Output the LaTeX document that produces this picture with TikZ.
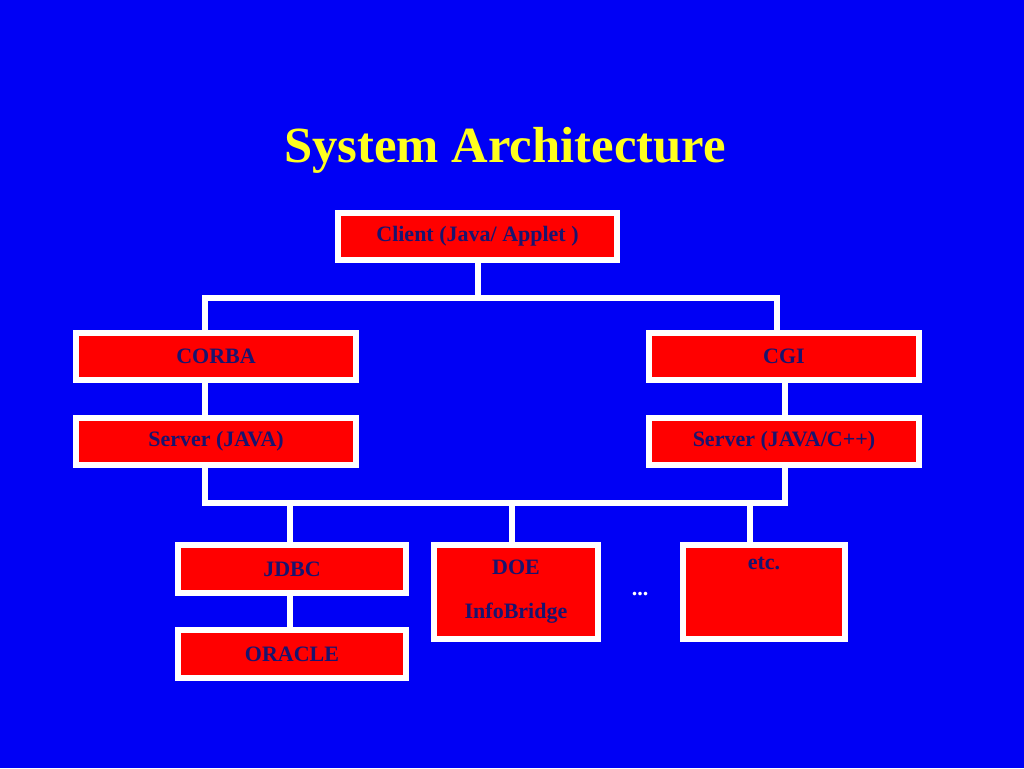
\documentclass[tikz,border=0pt]{standalone}
\usepackage{fontspec}
\setmainfont{Liberation Serif}
\usetikzlibrary{backgrounds}
\definecolor{slideblue}{RGB}{0,0,245}
\definecolor{boxred}{RGB}{255,0,0}
\definecolor{inkblue}{RGB}{25,20,110}
\definecolor{titleyellow}{RGB}{255,255,30}
\tikzset{
  archbox/.style={draw=white, line width=4.5pt, fill=boxred, inner sep=0pt,
    text=inkblue, font=\fontsize{16.5}{25}\selectfont\bfseries, align=center},
  wire/.style={draw=white, line width=4.5pt}
}
\begin{document}
\begin{tikzpicture}[x=0.75pt,y=-0.75pt]
	\useasboundingbox (0,0) rectangle (1024,768);
	\node[text=titleyellow, font=\fontsize{38}{40}\selectfont\bfseries] (title) at (505,150) {System Architecture};
	% top level
	\node[archbox, minimum width=209pt, minimum height=35pt] (client) at (477.5,236.5) {Client (Java/ Applet )};
	\node[archbox, minimum width=210pt, minimum height=35pt] (corba) at (216,356.5) {CORBA};
	\node[archbox, minimum width=202.5pt, minimum height=35pt] (cgi) at (784,356.5) {CGI};
	\node[archbox, minimum width=210pt, minimum height=35pt] (serverj) at (216,441.5) {Server (JAVA)};
	\node[archbox, minimum width=202.5pt, minimum height=35pt] (serverc) at (784,441.5) {Server (JAVA/C++)};
	% data sources
	\node[archbox, minimum width=171pt, minimum height=36pt] (jdbc) at (292,569) {JDBC};
	\node[archbox, minimum width=171pt, minimum height=36pt] (oracle) at (292,654) {ORACLE};
	\node[archbox, minimum width=123pt, minimum height=70.5pt, font=\fontsize{16.5}{33}\selectfont\bfseries] (doe) at (516,592) {DOE\\InfoBridge};
	\node[archbox, minimum width=121.5pt, minimum height=70.5pt, font=\fontsize{16.5}{33}\selectfont\bfseries] (etc) at (764,592) {etc.\\\strut};
	\node[text=white, font=\fontsize{16.5}{20}\selectfont\bfseries] (dots) at (640,594) {...};
	\coordinate (busa) at (205,298);
	\coordinate (busb) at (777,298);
	\coordinate (busc) at (205,503);
	\coordinate (busd) at (785,503);
	\begin{pgfonlayer}{background}
		\fill[slideblue] (0,0) rectangle (1024,768);
		\draw[wire] (client.south) -- (client.south |- busa);
		\draw[wire] (busa |- corba.north) -- (busa) -- (busb) -- (busb |- cgi.north);
		\draw[wire] (busa |- corba.south) -- (busa |- serverj.north);
		\draw[wire] (busd |- cgi.south) -- (busd |- serverc.north);
		\draw[wire] (busc |- serverj.south) -- (busc) -- (busd) -- (busd |- serverc.south);
		\foreach \bx in {290,512,750}
			\draw[wire] (\bx,503) -- (\bx,542);
		\draw[wire] (jdbc.south -| 290,0) -- (oracle.north -| 290,0);
	\end{pgfonlayer}
\end{tikzpicture}
\end{document}
